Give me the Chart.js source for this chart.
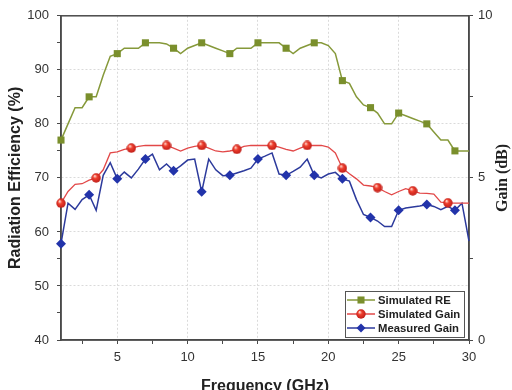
<!DOCTYPE html>
<html lang="en">
<head>
<meta charset="UTF-8">
<title>Radiation Efficiency and Gain</title>
<style>
  html, body { margin: 0; padding: 0; background: #fff; }
  #chart { display: block; }
</style>
<script src="https://cdn.jsdelivr.net/npm/chart.js"></script>
</head>
<body>
<canvas id="chart" width="512" height="390"></canvas>
<script>
// Frequency samples (GHz)
const freqGHz = [1, 1.5, 2, 2.5, 3, 3.5, 4, 4.5, 5, 5.5, 6, 6.5, 7, 7.5, 8, 8.5, 9, 9.5, 10, 10.5,
                 11, 11.5, 12, 12.5, 13, 13.5, 14, 14.5, 15, 15.5, 16, 16.5, 17, 17.5, 18, 18.5, 19, 19.5, 20, 20.5,
                 21, 21.5, 22, 22.5, 23, 23.5, 24, 24.5, 25, 25.5, 26, 26.5, 27, 27.5, 28, 28.5, 29, 29.5, 30];

// Simulated radiation efficiency (%), left axis
const simulatedRE = [77, 80, 83, 83, 85, 85, 89, 92.5, 93, 94, 94, 94, 95, 95, 95, 94.8, 94, 93, 94, 94.5,
                     95, 94.5, 94, 93.5, 93, 94, 94, 94, 95, 95, 95, 95, 94, 93, 94, 94.5, 95, 95, 94.5, 93,
                     88, 87.5, 85, 83.5, 83, 82, 80, 80, 82, 81.5, 81, 80.5, 80, 78.5, 77, 77, 75, 75, 75];

// Simulated gain (dB), right axis
const simulatedGain = [4.22, 4.58, 4.8, 4.82, 4.93, 5.0, 5.25, 5.77, 5.8, 5.88, 5.92, 5.97, 6.0, 6.0, 6.0, 6.0, 5.92, 5.83, 5.92, 5.97,
                       6.0, 5.92, 5.83, 5.8, 5.83, 5.88, 5.97, 6.0, 6.0, 6.0, 6.0, 5.95, 5.88, 5.83, 5.92, 6.0, 6.0, 6.0, 5.95, 5.77,
                       5.3, 5.13, 4.97, 4.78, 4.75, 4.7, 4.58, 4.48, 4.58, 4.67, 4.6, 4.53, 4.52, 4.5, 4.25, 4.23, 4.22, 4.22, 4.22];

// Measured gain (dB), right axis
const measuredGain = [2.97, 4.22, 4.03, 4.33, 4.48, 4.0, 5.08, 5.47, 4.97, 5.18, 5.0, 5.27, 5.58, 5.73, 5.25, 5.43, 5.22, 5.37, 5.55, 5.58,
                      4.57, 5.58, 5.25, 5.07, 5.08, 5.15, 5.22, 5.3, 5.58, 5.67, 5.77, 5.12, 5.08, 5.2, 5.33, 5.58, 5.08, 5.0, 5.12, 5.17,
                      4.97, 4.9, 4.33, 3.87, 3.78, 3.67, 3.5, 3.5, 4.0, 4.07, 4.1, 4.13, 4.18, 4.12, 4.02, 4.12, 4.0, 4.22, 3.05];

// Frequencies that carry a symbol
const reMarkerGHz = [1, 3, 5, 7, 9, 11, 13, 15, 17, 19, 21, 23, 25, 27, 29];
const simGainMarkerGHz = [1, 3.5, 6, 8.5, 11, 13.5, 16, 18.5, 21, 23.5, 26, 28.5];
const measMarkerGHz = [1, 3, 5, 7, 9, 11, 13, 15, 17, 19, 21, 23, 25, 27, 29];

// Ticks
const xTickValues = [2.5, 5, 7.5, 10, 12.5, 15, 17.5, 20, 22.5, 25, 27.5, 30];
const xLabelValues = [5, 10, 15, 20, 25, 30];
const reTickValues = [40, 45, 50, 55, 60, 65, 70, 75, 80, 85, 90, 95, 100];
const reLabelValues = [40, 50, 60, 70, 80, 90, 100];
const gainTickValues = [0, 2.5, 5, 7.5, 10];
const gainLabelValues = [0, 5, 10];

const GREEN = '#86993a';
const GREEN_MARK = '#7a8f2c';
const RED = '#e24848';
const BLUE = '#2c3a9c';
const BLUE_MARK = '#2233aa';
const AXIS = '#4a4a4a';
const GRID = '#dadada';

Chart.defaults.font.family = 'Arial, "Liberation Sans", sans-serif';

// shaded red ball used as the simulated gain symbol
function makeBall(size) {
  const c = document.createElement('canvas');
  c.width = c.height = size;
  const g = c.getContext('2d');
  const r = size / 2;
  const grad = g.createRadialGradient(r * 0.7, r * 0.6, 0.4, r, r, r);
  grad.addColorStop(0, '#ffd6cc');
  grad.addColorStop(0.35, '#f0402e');
  grad.addColorStop(1, '#bb1a16');
  g.fillStyle = grad;
  g.beginPath();
  g.arc(r, r, r - 0.3, 0, Math.PI * 2);
  g.fill();
  return c;
}
const redBall = makeBall(10);

const pts = vals => freqGHz.map((f, i) => ({ x: f, y: vals[i] }));
const markAt = (list, r) => ctx => list.includes(freqGHz[ctx.dataIndex]) ? r : 0;

const decorations = {
  id: 'decorations',
  beforeDatasetsDraw(chart) {
    const { ctx, chartArea: a } = chart;
    ctx.save();
    ctx.strokeStyle = AXIS;
    ctx.lineWidth = 1.5;
    ctx.strokeRect(a.left, a.top, a.right - a.left, a.bottom - a.top);
    ctx.restore();
  },
  afterDraw(chart) {
    const { ctx, chartArea: a } = chart;
    ctx.save();

    // legend box
    const bw = 119, bh = 46;
    const bx = a.right - 5 - bw, by = a.bottom - 3 - bh;
    ctx.fillStyle = '#fff';
    ctx.fillRect(bx, by, bw, bh);
    ctx.strokeStyle = '#555';
    ctx.lineWidth = 1;
    ctx.strokeRect(bx + 0.5, by + 0.5, bw, bh);

    chart.data.datasets.forEach((ds, i) => {
      const y = by + 9 + i * 14;
      ctx.strokeStyle = ds.borderColor;
      ctx.lineWidth = 1.5;
      ctx.beginPath();
      ctx.moveTo(bx + 2, y);
      ctx.lineTo(bx + 30, y);
      ctx.stroke();
      ctx.fillStyle = ds.pointBackgroundColor;
      Chart.helpers.drawPoint(ctx, {
        pointStyle: ds.pointStyle, radius: ds.legendRadius, rotation: 0, borderWidth: 0
      }, bx + 16, y);
      ctx.fillStyle = '#222';
      ctx.font = 'bold 11.3px Arial, "Liberation Sans", sans-serif';
      ctx.textBaseline = 'middle';
      ctx.textAlign = 'left';
      ctx.fillText(ds.label, bx + 33, y + 0.5);
    });

    // right axis title, reads bottom to top
    ctx.translate(503, (a.top + a.bottom) / 2);
    ctx.rotate(-Math.PI / 2);
    ctx.font = 'bold 16px "Liberation Serif", "Times New Roman", serif';
    ctx.fillStyle = '#222';
    ctx.textAlign = 'center';
    ctx.textBaseline = 'middle';
    ctx.fillText('Gain (dB)', 0, 0);
    ctx.restore();
  }
};

new Chart(document.getElementById('chart'), {
  type: 'line',
  data: {
    datasets: [{
      label: 'Simulated RE',
      data: pts(simulatedRE),
      yAxisID: 'y',
      borderColor: GREEN,
      borderWidth: 1.5,
      pointStyle: 'rect',
      pointRadius: markAt(reMarkerGHz, 5),
      legendRadius: 5,
      pointBackgroundColor: GREEN_MARK,
      pointBorderWidth: 0,
      clip: false
    }, {
      label: 'Simulated Gain',
      data: pts(simulatedGain),
      yAxisID: 'y1',
      borderColor: RED,
      borderWidth: 1.3,
      pointStyle: redBall,
      pointRadius: markAt(simGainMarkerGHz, 5),
      legendRadius: 5,
      pointBackgroundColor: RED,
      pointBorderWidth: 0,
      clip: false
    }, {
      label: 'Measured Gain',
      data: pts(measuredGain),
      yAxisID: 'y1',
      borderColor: BLUE,
      borderWidth: 1.5,
      pointStyle: 'rectRot',
      pointRadius: markAt(measMarkerGHz, 5),
      legendRadius: 4.5,
      pointBackgroundColor: BLUE_MARK,
      pointBorderWidth: 0,
      clip: false
    }]
  },
  options: {
    responsive: false,
    animation: false,
    layout: { padding: { top: 12, left: 0, right: 0, bottom: 0 } },
    plugins: { legend: { display: false }, tooltip: { enabled: false } },
    scales: {
      x: {
        type: 'linear',
        position: 'bottom',
        min: 1,
        max: 30,
        afterBuildTicks: s => { s.ticks = xTickValues.map(v => ({ value: v })); },
        afterFit: s => { s.height = 50; },
        ticks: {
          autoSkip: false,
          maxRotation: 0,
          padding: 6,
          color: '#333',
          font: { size: 13 },
          callback: v => xLabelValues.includes(v) ? String(v) : ''
        },
        grid: {
          color: c => (c.tick && xLabelValues.includes(c.tick.value) && c.tick.value < 30) ? GRID : 'rgba(0,0,0,0)',
          tickColor: AXIS,
          tickLength: 4,
          tickWidth: 1
        },
        border: { color: AXIS, width: 1.5, dash: [2, 2] },
        title: {
          display: true,
          text: 'Frequency (GHz)',
          color: '#222',
          font: { size: 16, weight: 'bold' },
          padding: { top: 0, bottom: -6 }
        }
      },
      y: {
        position: 'left',
        min: 40,
        max: 100,
        afterBuildTicks: s => { s.ticks = reTickValues.map(v => ({ value: v })); },
        afterFit: s => { s.width = 61; },
        ticks: {
          autoSkip: false,
          padding: 8,
          color: '#333',
          font: { size: 13 },
          callback: v => reLabelValues.includes(v) ? String(v) : ''
        },
        grid: {
          color: c => (c.tick && reLabelValues.includes(c.tick.value) && c.tick.value > 40 && c.tick.value < 100) ? GRID : 'rgba(0,0,0,0)',
          tickColor: AXIS,
          tickLength: 4,
          tickWidth: 1
        },
        border: { color: AXIS, width: 1.5, dash: [2, 2] },
        title: {
          display: true,
          text: 'Radiation Efficiency (%)',
          color: '#222',
          font: { size: 16, weight: 'bold' },
          padding: { top: 6, bottom: 0 }
        }
      },
      y1: {
        position: 'right',
        min: 0,
        max: 10,
        afterBuildTicks: s => { s.ticks = gainTickValues.map(v => ({ value: v })); },
        afterFit: s => { s.width = 43; },
        ticks: {
          autoSkip: false,
          padding: 5,
          color: '#333',
          font: { size: 13 },
          callback: v => gainLabelValues.includes(v) ? String(v) : ''
        },
        grid: {
          drawOnChartArea: false,
          color: AXIS,
          tickColor: AXIS,
          tickLength: 4,
          tickWidth: 1
        },
        border: { color: AXIS, width: 1.5 }
      }
    }
  },
  plugins: [decorations]
});
</script>
</body>
</html>
